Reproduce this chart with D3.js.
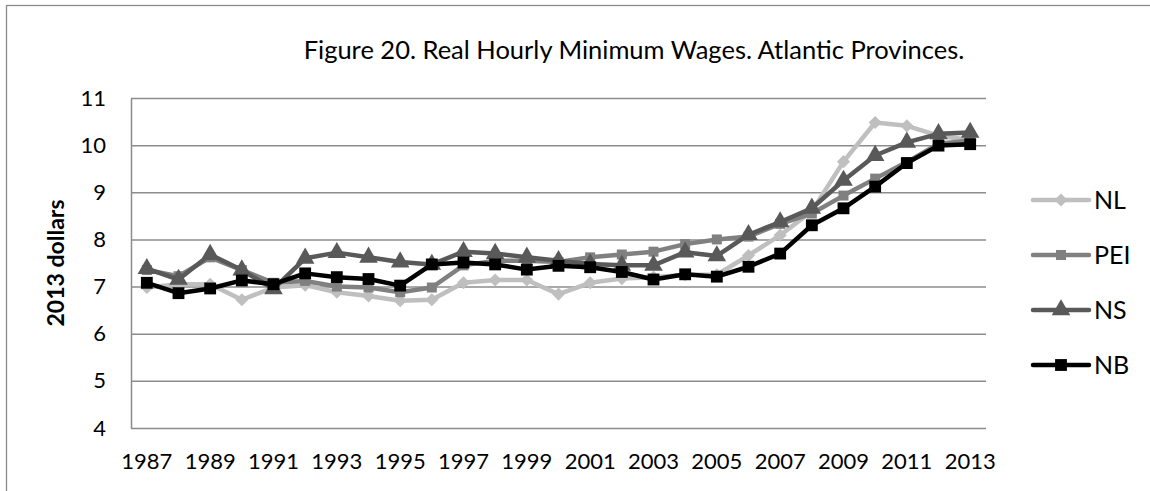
<!DOCTYPE html>
<html>
<head>
<meta charset="utf-8">
<script src="https://cdn.jsdelivr.net/npm/d3@7"></script>
<style>
  body { margin: 0; background: #fff; }
  svg { display: block; font-family: Lato, "Open Sans", sans-serif; }
</style>
</head>
<body>
<div id="chart"></div>
<script>
// chart values
const years = [1987, 1988, 1989, 1990, 1991, 1992, 1993, 1994, 1995, 1996, 1997, 1998, 1999,
  2000, 2001, 2002, 2003, 2004, 2005, 2006, 2007, 2008, 2009, 2010, 2011, 2012, 2013];
const nlValues = [6.98, 7.05, 7.05, 6.72, 6.98, 7.03, 6.88, 6.8, 6.7, 6.72, 7.08, 7.14, 7.14,
  6.84, 7.08, 7.17, 7.2, 7.25, 7.25, 7.66, 8.09, 8.6, 9.65, 10.48, 10.41, 10.2, 10.11];
const peiValues = [7.35, 7.22, 7.62, 7.35, 7.08, 7.12, 7.0, 6.98, 6.88, 6.98, 7.45, 7.55, 7.55,
  7.52, 7.62, 7.68, 7.74, 7.9, 8.0, 8.06, 8.33, 8.55, 8.93, 9.29, 9.64, 10.03, 10.1];
const nsValues = [7.38, 7.15, 7.68, 7.35, 6.95, 7.6, 7.72, 7.62, 7.52, 7.47, 7.74, 7.7, 7.62,
  7.55, 7.48, 7.45, 7.45, 7.73, 7.65, 8.1, 8.37, 8.66, 9.25, 9.78, 10.06, 10.24, 10.27];
const nbValues = [7.08, 6.86, 6.96, 7.13, 7.05, 7.28, 7.2, 7.16, 7.02, 7.47, 7.51, 7.47, 7.36,
  7.44, 7.41, 7.31, 7.15, 7.26, 7.21, 7.42, 7.7, 8.3, 8.66, 9.12, 9.62, 9.99, 10.02];
const yTicks = [4, 5, 6, 7, 8, 9, 10, 11];
const xTickYears = [1987, 1989, 1991, 1993, 1995, 1997, 1999, 2001, 2003, 2005, 2007, 2009, 2011, 2013];
const seriesNames = ["NL", "PEI", "NS", "NB"];

const width = 1150;
const height = 491;

const marginTop = 98;
const marginBottom = 63;
const marginLeft = 131;
const marginRight = 164;

const chartWidth = width - marginLeft - marginRight;
const chartHeight = height - marginTop - marginBottom;

// line colours / markers per series
const styles = {
  NL:  { color: "#bfbfbf", symbol: d3.symbolDiamond2, size: 110, lw: 4.5 },
  PEI: { color: "#808080", symbol: d3.symbolSquare, size: 100, lw: 4.5 },
  NS:  { color: "#595959", symbol: d3.symbolTriangle, size: 150, lw: 4.5 },
  NB:  { color: "#000000", symbol: d3.symbolSquare, size: 140, lw: 4.5 }
};

const series = [
  { name: "NL", values: nlValues },
  { name: "PEI", values: peiValues },
  { name: "NS", values: nsValues },
  { name: "NB", values: nbValues }
];

const svg = d3.select("#chart").append("svg")
  .attr("width", width)
  .attr("height", height);

// outer frame (cut off on the right / bottom like the picture)
svg.append("rect")
  .attr("x", 6.5).attr("y", 5.5)
  .attr("width", 1300).attr("height", 600)
  .attr("fill", "none")
  .attr("stroke", "#8c8c8c")
  .attr("stroke-width", 1.3);

svg.append("text")
  .attr("x", 634)
  .attr("y", 59)
  .attr("text-anchor", "middle")
  .style("font-size", "25.5px")
  .text("Figure 20. Real Hourly Minimum Wages. Atlantic Provinces.");

const chart = svg.append("g")
  .attr("transform", `translate(${marginLeft}, ${marginTop})`);

const x = d3.scaleBand()
  .domain(years)
  .range([0, chartWidth])
  .padding(0);
const cx = d => x(d) + x.bandwidth() / 2;

const y = d3.scaleLinear()
  .domain([4, 11])
  .range([chartHeight, 0]);

// horizontal grid lines
chart.append("g")
  .attr("class", "grid")
  .call(d3.axisLeft(y).tickValues(yTicks).tickSize(-chartWidth).tickFormat(""))
  .call(g => g.select(".domain").remove())
  .selectAll("line")
    .attr("stroke", "#8c8c8c")
    .attr("stroke-width", 1.5);

// y axis
chart.append("g")
  .call(d3.axisLeft(y).tickValues(yTicks).tickSize(0).tickPadding(25).tickFormat(d3.format("d")))
  .call(g => g.select(".domain").attr("stroke", "#8c8c8c").attr("stroke-width", 1.5))
  .selectAll("text")
    .style("font-size", "22px")
    .style("font-family", "Lato, sans-serif")
    .attr("fill", "#000");

// x axis labels (every other year)
chart.append("g")
  .attr("transform", `translate(0, ${chartHeight})`)
  .call(d3.axisBottom(x).tickValues(xTickYears).tickSize(0).tickPadding(25))
  .call(g => g.select(".domain").remove())
  .selectAll("text")
    .style("font-size", "22px")
    .style("font-family", "Lato, sans-serif")
    .attr("fill", "#000");

// y axis title
svg.append("text")
  .attr("transform", `translate(64, 263) rotate(-90)`)
  .attr("text-anchor", "middle")
  .style("font-size", "23px")
  .style("font-weight", "bold")
  .text("2013 dollars");

const line = d3.line()
  .x((d, i) => cx(years[i]))
  .y(d => y(d));

series.forEach(s => {
  const st = styles[s.name];
  chart.append("path")
    .datum(s.values)
    .attr("fill", "none")
    .attr("stroke", st.color)
    .attr("stroke-width", st.lw)
    .attr("stroke-linejoin", "round")
    .attr("d", line);

  chart.selectAll(".mk-" + s.name)
    .data(s.values)
    .enter().append("path")
    .attr("class", "mk-" + s.name)
    .attr("transform", (d, i) => `translate(${cx(years[i])}, ${y(d)})`)
    .attr("d", d3.symbol().type(st.symbol).size(st.size))
    .attr("fill", st.color);
});

// legend
const legend = svg.selectAll(".legend")
  .data(seriesNames)
  .enter().append("g")
  .attr("class", "legend")
  .attr("transform", (d, i) => `translate(1033, ${200 + i * 55})`);

legend.append("line")
  .attr("x1", 0).attr("x2", 56)
  .attr("stroke", d => styles[d].color)
  .attr("stroke-width", 4.5)
  .attr("stroke-linecap", "round");

legend.append("path")
  .attr("transform", "translate(28, 0)")
  .attr("d", d => d3.symbol().type(styles[d].symbol).size(styles[d].size)())
  .attr("fill", d => styles[d].color);

legend.append("text")
  .attr("x", 61)
  .attr("dy", ".35em")
  .style("font-size", "25px")
  .text(d => d);
</script>
</body>
</html>
